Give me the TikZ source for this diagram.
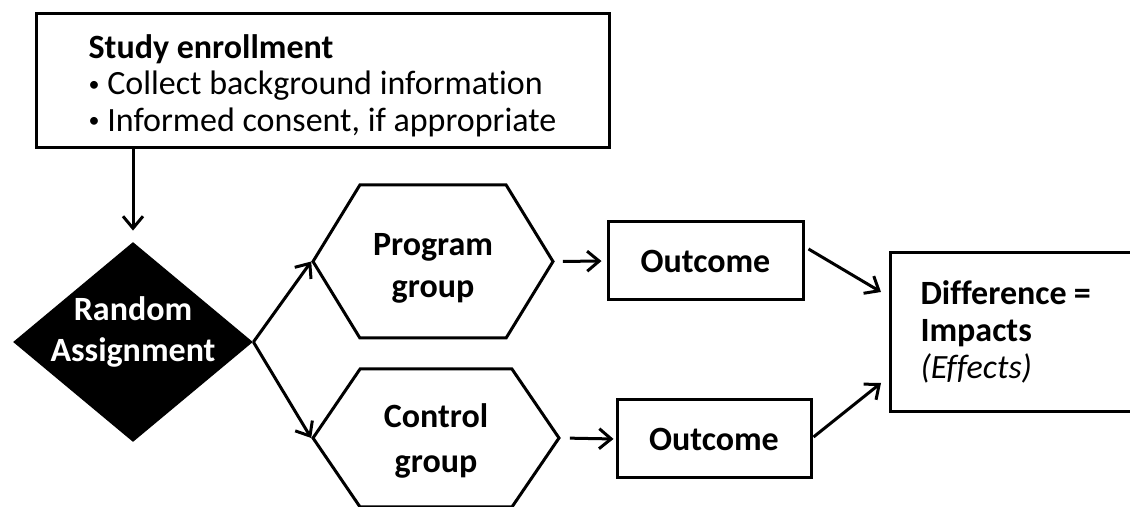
\documentclass[tikz,border=0pt]{standalone}
\usepackage{fontspec}
\setmainfont{Carlito}[Ligatures=NoCommon]
\usetikzlibrary{shapes.geometric,shapes.symbols,arrows.meta}
\newcommand\dotitem{\raisebox{1.8pt}{\fontsize{11}{11}\selectfont\textbullet}\ }
\tikzset{
  box/.style={draw, line width=1.5pt, font=\fontsize{17}{18.3}\selectfont},
  openbox/.style={line width=1.5pt, font=\fontsize{17}{18.3}\selectfont},
  hexa/.style={signal, signal to=west and east, draw, line width=1.5pt, inner sep=0pt,
    align=center, font=\fontsize{17}{21}\selectfont\bfseries},
  arr/.style={-{Straight Barb[length=6pt,width=10pt]}, line width=1.5pt},
}
\begin{document}
\begin{tikzpicture}[x=0.5pt,y=-0.5pt]
\useasboundingbox (0,0) rectangle (1130,507);
\node[box, align=left, minimum width=286.5pt, minimum height=67pt] (enroll) at (322.5,81)
  {\rule{0pt}{16.7pt}\textbf{Study enrollment}\\\dotitem Collect background information\\\dotitem Informed consent, if appropriate};
\node[diamond, fill=black, inner sep=0pt, minimum width=120pt, minimum height=100pt,
  label={[text=white, align=center, yshift=5pt, font=\fontsize{17}{20.5}\selectfont\bfseries]center:Random\\Assignment}]
  (assign) at (133,342) {};
\node[hexa, signal pointer angle=117, minimum width=120pt, minimum height=76.5pt] (prog) at (433,261.5)
  {\rule{0pt}{18pt}Program\\group};
\node[hexa, signal pointer angle=111.4, minimum width=123pt, minimum height=69pt,
  font=\fontsize{17}{22.5}\selectfont\bfseries] (ctrl) at (436,438) {\rule{0pt}{15pt}Control\\group};
\node[box, font=\fontsize{17}{18.3}\selectfont\bfseries, minimum width=97.5pt, minimum height=39pt] (out1) at (705.5,261) {Outcome};
\node[box, font=\fontsize{17}{18.3}\selectfont\bfseries, minimum width=97pt, minimum height=39pt] (out2) at (714,439) {Outcome};
\node[openbox, anchor=west, align=left, text width=170pt, inner xsep=14.5pt, minimum height=78pt] (diff) at (890,332)
  {\textbf{Difference\hspace{-2pt} =}\\\textbf{Impacts}\\\textit{(Effects)}};
\draw[line width=1.5pt] (diff.north east) -- (diff.north west) -- (diff.south west) -- (diff.south east);
\draw[arr, shorten >=5.5pt] (enroll.south -| assign.north) -- (assign.north);
\draw[arr] (assign.east) -- (prog.west);
\draw[arr] (assign.east) -- (ctrl.west);
\draw[arr, shorten <=4pt, shorten >=2.5pt] (prog.east) -- (out1.west);
\draw[arr, shorten <=4.5pt, shorten >=1pt] (ctrl.east) -- (out2.west);
\draw[arr] ([shift={(4,-12)}]out1.east) -- ([shift={(-9,-40)}]diff.west);
\draw[arr] ([shift={(1,-2)}]out2.east) -- ([shift={(-9,51)}]diff.west);
\end{tikzpicture}
\end{document}
